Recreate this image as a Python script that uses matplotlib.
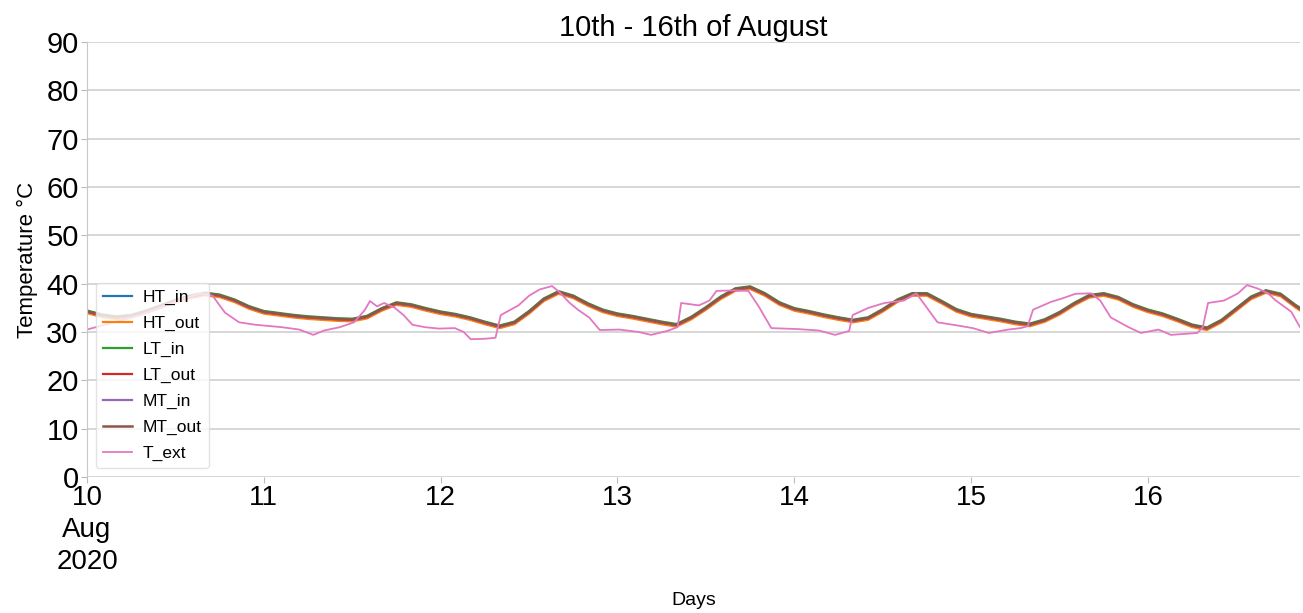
import numpy as np
import matplotlib
matplotlib.use("Agg")
import matplotlib.pyplot as plt

# ---- data (x in day-of-month, August 2020), 2-hourly indoor readings ----
t_int = [10 + h / 24 for h in range(0, 168, 2)]

mt_out = [34.3, 33.5, 33.1, 33.4, 34.3, 35.4, 36.5, 37.4, 38.0, 37.6, 36.6, 35.2,
          34.2, 33.8, 33.4, 33.1, 32.9, 32.7, 32.6, 33.2, 34.8, 36.0, 35.6, 34.8,
          34.1, 33.6, 32.9, 32.0, 31.2, 32.0, 34.2, 36.8, 38.3, 37.4, 35.8, 34.5,
          33.7, 33.2, 32.6, 32.0, 31.5, 33.0, 35.0, 37.2, 38.9, 39.3, 37.9, 36.0,
          34.8, 34.2, 33.5, 32.9, 32.4, 32.9, 34.6, 36.6, 37.9, 37.9, 36.3, 34.6,
          33.6, 33.1, 32.6, 32.0, 31.6, 32.5, 34.0, 35.9, 37.5, 37.9, 37.1, 35.6,
          34.5, 33.7, 32.6, 31.4, 30.8, 32.4, 34.8, 37.2, 38.5, 37.8, 35.5, 33.5]

# small per-sensor differences (degC) relative to MT_out
sensor_names = ["HT_in", "HT_out", "LT_in", "LT_out", "MT_in", "MT_out"]
sensor_offsets = [-0.2, -0.4, 0.15, -0.1, -0.05, 0.0]

t_ext_time = [10.00, 10.10, 10.20, 10.30, 10.45, 10.55, 10.65, 10.71, 10.78, 10.86,
              10.95, 11.10, 11.20, 11.28, 11.34, 11.43, 11.51, 11.57, 11.60, 11.64,
              11.68, 11.74, 11.79, 11.84, 11.91, 11.99, 12.08, 12.13, 12.17, 12.25,
              12.31, 12.34, 12.39, 12.44, 12.50, 12.56, 12.63, 12.67, 12.73, 12.78,
              12.84, 12.90, 13.01, 13.12, 13.19, 13.28, 13.34, 13.36, 13.46, 13.52,
              13.56, 13.66, 13.74, 13.80, 13.87, 14.02, 14.14, 14.23, 14.31, 14.33,
              14.42, 14.51, 14.62, 14.69, 14.73, 14.81, 14.93, 15.01, 15.10, 15.21,
              15.28, 15.32, 15.35, 15.45, 15.52, 15.59, 15.68, 15.73, 15.79, 15.89,
              15.96, 16.06, 16.13, 16.28, 16.31, 16.34, 16.43, 16.51, 16.56, 16.62,
              16.68, 16.72, 16.81, 16.86]
t_ext = [30.5, 31.5, 32.5, 33.5, 35.5, 37.0, 38.0, 37.5, 34.0, 32.0,
         31.5, 31.0, 30.5, 29.4, 30.3, 31.0, 32.0, 34.5, 36.4, 35.3,
         36.0, 35.0, 33.5, 31.5, 31.0, 30.7, 30.8, 30.0, 28.5, 28.6,
         28.8, 33.5, 34.5, 35.5, 37.5, 38.8, 39.5, 38.3, 36.0, 34.5,
         33.0, 30.4, 30.5, 30.0, 29.4, 30.2, 31.0, 36.0, 35.5, 36.5,
         38.5, 38.6, 38.5, 35.2, 30.8, 30.6, 30.3, 29.4, 30.2, 33.5,
         35.0, 36.0, 36.5, 38.0, 36.0, 32.0, 31.3, 30.8, 29.8, 30.5,
         30.8, 31.2, 34.6, 36.2, 37.0, 37.9, 38.0, 36.5, 33.0, 31.0,
         29.8, 30.5, 29.4, 29.8, 31.0, 36.0, 36.5, 38.0, 39.7, 39.0,
         38.0, 36.6, 34.2, 31.0]

x_ticks = [10, 11, 12, 13, 14, 15, 16]
x_tick_labels = ["10\nAug\n2020", "11", "12", "13", "14", "15", "16"]
y_ticks = [0, 10, 20, 30, 40, 50, 60, 70, 80, 90]

# ---- plot ----
plt.rcParams['font.family'] = ['Liberation Sans', 'DejaVu Sans']
fig = plt.figure(figsize=(13.03, 6.13), dpi=100)
ax = fig.add_axes([0.0668, 0.2219, 0.9309, 0.7096])

colors = ["#1f77b4", "#ff7f0e", "#2ca02c", "#d62728", "#9467bd", "#8c564b"]
base = np.array(mt_out)
for name, off, c in zip(sensor_names, sensor_offsets, colors):
    ax.plot(t_int, base + off, color=c, lw=1.8 if name == "MT_out" else 1.6,
            label=name)
ax.plot(t_ext_time, t_ext, color="#e377c2", lw=1.3, label="T_ext")

ax.set_xlim(10, 16.86)
ax.set_ylim(0, 90)
ax.set_yticks(y_ticks)
ax.set_xticks(x_ticks)
ax.set_xticklabels(x_tick_labels, fontsize=20)
for lbl in ax.get_xticklabels():
    lbl.set_linespacing(1.3)
ax.tick_params(axis='y', labelsize=21, length=4, color="#bbbbbb", pad=2)
ax.tick_params(axis='x', length=4, color="#bbbbbb", pad=2)
ax.yaxis.grid(True, color="#d0d0d0", lw=1.2)
ax.set_axisbelow(True)
for s in ["top", "right", "bottom"]:
    ax.spines[s].set_visible(False)
ax.spines["left"].set_color("#c8c8c8")

ax.set_title("10th - 16th of August", fontsize=21, pad=2)
ax.set_ylabel("Temperature °C", fontsize=16, labelpad=6)
ax.set_xlabel("Days", fontsize=14, labelpad=12)

leg = ax.legend(loc="lower left", fontsize=12.5, frameon=True, handlelength=1.7,
                handletextpad=0.6, borderaxespad=0.5, labelspacing=0.62)
leg.get_frame().set_edgecolor("#dddddd")

fig.savefig("out.png", dpi=100)
